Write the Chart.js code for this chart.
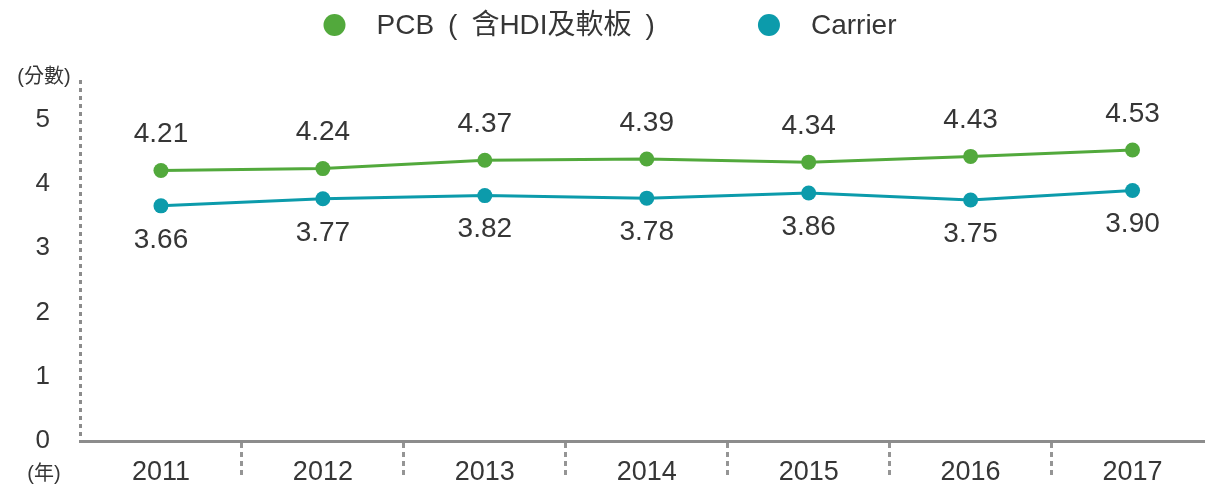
<!DOCTYPE html>
<html>
<head>
<meta charset="utf-8">
<script src="https://cdn.jsdelivr.net/npm/chart.js@4.4.1/dist/chart.umd.min.js"></script>
<style>
  html, body { margin: 0; padding: 0; overflow: hidden; background: #ffffff; }
  canvas { display: block; }
</style>
</head>
<body>
<canvas id="chart" width="1221" height="489"></canvas>
<script>
// Data
const years = ['2011', '2012', '2013', '2014', '2015', '2016', '2017'];
const pcbScores = [4.21, 4.24, 4.37, 4.39, 4.34, 4.43, 4.53];
const carrierScores = [3.66, 3.77, 3.82, 3.78, 3.86, 3.75, 3.90];
const yTickValues = [0, 1, 2, 3, 4, 5];
const seriesNames = ['PCB\u2002(\u2002含HDI及軟板\u2002)', 'Carrier'];
const yUnitLabel = '(分數)';
const xUnitLabel = '(年)';

const FONT = '"Liberation Sans", "Noto Sans CJK TC", Arial, sans-serif';
const TEXT = '#363636';
const AXIS = '#8c8c8c';
const GREEN = '#52a93c';
const TEAL = '#0c9bab';

Chart.defaults.font.family = FONT;
Chart.defaults.color = TEXT;

// Dashed vertical axis line along the left edge of the plot
const dashedYAxis = {
  id: 'dashedYAxis',
  beforeDatasetsDraw(chart) {
    const { ctx, chartArea } = chart;
    ctx.save();
    ctx.strokeStyle = AXIS;
    ctx.lineWidth = 3;
    ctx.setLineDash([4, 4]);
    ctx.beginPath();
    ctx.moveTo(chartArea.left + 0.5, chartArea.top + 2);
    ctx.lineTo(chartArea.left + 0.5, chartArea.bottom);
    ctx.stroke();
    ctx.restore();
  }
};

// Value labels above / below each point
const valueLabels = {
  id: 'valueLabels',
  afterDatasetsDraw(chart) {
    const ctx = chart.ctx;
    ctx.save();
    ctx.font = '28px ' + FONT;
    ctx.fillStyle = TEXT;
    ctx.textAlign = 'center';
    ctx.textBaseline = 'middle';
    chart.data.datasets.forEach((ds, di) => {
      const meta = chart.getDatasetMeta(di);
      meta.data.forEach((pt, i) => {
        ctx.fillText(ds.data[i].toFixed(2), pt.x, pt.y + ds.labelOffset);
      });
    });
    ctx.restore();
  }
};

// Legend row across the top
const topLegend = {
  id: 'topLegend',
  afterDraw(chart) {
    const ctx = chart.ctx;
    ctx.save();
    ctx.font = '28px ' + FONT;
    ctx.textBaseline = 'middle';
    ctx.textAlign = 'left';
    const r = 11, gapText = 31, gapItem = 103, cy = 25;
    const items = chart.data.datasets.map(ds => ({
      text: ds.label, color: ds.borderColor, w: ctx.measureText(ds.label).width
    }));
    let total = 0;
    items.forEach((it, i) => { total += 2 * r + gapText + it.w + (i ? gapItem : 0); });
    let x = 610 - total / 2;
    items.forEach(it => {
      ctx.fillStyle = it.color;
      ctx.beginPath();
      ctx.arc(x + r, cy, r, 0, Math.PI * 2);
      ctx.fill();
      ctx.fillStyle = TEXT;
      ctx.fillText(it.text, x + 2 * r + gapText, cy + 1);
      x += 2 * r + gapText + it.w + gapItem;
    });
    ctx.restore();
  }
};

// Unit captions beside the axes
const unitCaptions = {
  id: 'unitCaptions',
  afterDraw(chart) {
    const ctx = chart.ctx;
    ctx.save();
    ctx.font = '20px ' + FONT;
    ctx.fillStyle = TEXT;
    ctx.textAlign = 'center';
    ctx.textBaseline = 'middle';
    ctx.fillText(yUnitLabel, 44, 77);
    ctx.fillText(xUnitLabel, 44, 474);
    ctx.restore();
  }
};

new Chart(document.getElementById('chart'), {
  type: 'line',
  data: {
    labels: years,
    datasets: [
      {
        label: seriesNames[0],
        data: pcbScores,
        borderColor: GREEN,
        backgroundColor: GREEN,
        borderWidth: 3,
        pointRadius: 7.5,
        pointBorderWidth: 0,
        tension: 0,
        labelOffset: -36
      },
      {
        label: seriesNames[1],
        data: carrierScores,
        borderColor: TEAL,
        backgroundColor: TEAL,
        borderWidth: 3,
        pointRadius: 7.5,
        pointBorderWidth: 0,
        tension: 0,
        labelOffset: 34
      }
    ]
  },
  options: {
    responsive: false,
    animation: false,
    layout: { padding: { top: 78, left: 0, right: 0, bottom: 0 } },
    plugins: {
      legend: { display: false },
      tooltip: { enabled: false }
    },
    scales: {
      x: {
        type: 'category',
        offset: true,
        grid: {
          display: true,
          drawOnChartArea: false,
          drawTicks: true,
          offset: true,
          tickLength: 37,
          tickWidth: 3,
          tickBorderDash: [5, 4],
          tickColor: c => (c.index === 0 ? 'rgba(0,0,0,0)' : '#959595')
        },
        border: { display: true, color: AXIS, width: 3 },
        ticks: { font: { size: 27 }, color: TEXT, padding: -22, maxRotation: 0 },
        afterFit: s => { s.height = 48; }
      },
      y: {
        min: 0,
        max: 5.65,
        afterBuildTicks: s => { s.ticks = yTickValues.map(v => ({ value: v })); },
        grid: { display: false, drawTicks: false },
        border: { display: false },
        ticks: { font: { size: 26 }, color: TEXT, padding: 30 },
        afterFit: s => { s.width = 80; }
      }
    }
  },
  plugins: [dashedYAxis, valueLabels, topLegend, unitCaptions]
});
</script>
</body>
</html>
